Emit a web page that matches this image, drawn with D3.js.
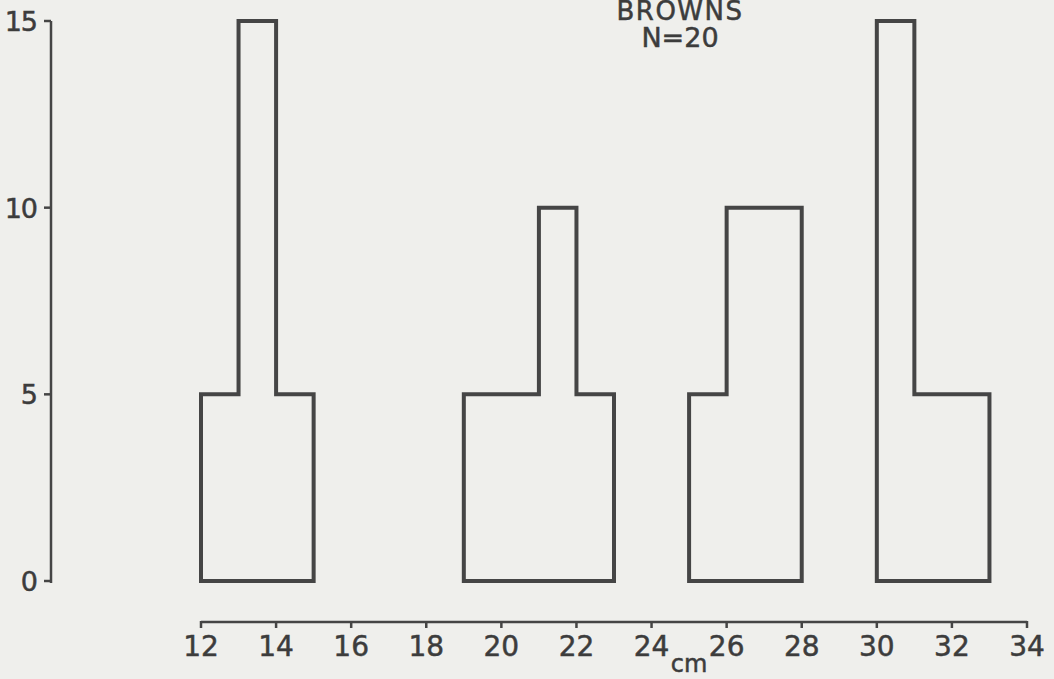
<!DOCTYPE html>
<html>
<head>
<meta charset="utf-8">
<script src="https://cdn.jsdelivr.net/npm/d3@7"></script>
<style>
  body { margin: 0; background: #efefec; }
  svg { display: block; }
  text { font-family: "DejaVu Sans", sans-serif; fill: #3c3c3c; stroke: #3c3c3c; stroke-width: 0.5px; }
</style>
</head>
<body>
<svg></svg>
<script>
// histogram bins (cm) and counts
const binLo = [12, 13, 14, 19, 21, 22, 25, 26, 30, 31];
const binHi = [13, 14, 15, 21, 22, 23, 26, 28, 31, 33];
const counts = [5, 15, 5, 5, 10, 5, 5, 10, 15, 5];
const xTicks = [12, 14, 16, 18, 20, 22, 24, 26, 28, 30, 32, 34];
const yTicks = [0, 5, 10, 15];
const titleLines = ["BROWNS", "N=20"];

(function drawHist() {
  const W = 1054, H = 679;
  const svg = d3.select("svg").attr("width", W).attr("height", H);

  const x = d3.scaleLinear().domain([12, 34]).range([201, 1027]);
  const y = d3.scaleLinear().domain([0, 15]).range([581, 21]);
  const ink = "#454545";

  // group contiguous bins into one outline
  let groups = [], cur = null;
  binLo.forEach((lo, i) => {
    if (cur && cur[cur.length - 1].hi === lo) cur.push({lo, hi: binHi[i], n: counts[i]});
    else { cur = [{lo, hi: binHi[i], n: counts[i]}]; groups.push(cur); }
  });

  groups.forEach(g => {
    const pts = [[x(g[0].lo), y(0)]];
    g.forEach(b => { pts.push([x(b.lo), y(b.n)]); pts.push([x(b.hi), y(b.n)]); });
    pts.push([x(g[g.length - 1].hi), y(0)]);
    svg.append("path")
      .attr("d", d3.line()(pts) + "Z")
      .attr("fill", "none")
      .attr("stroke", ink)
      .attr("stroke-width", 4)
      .attr("stroke-linejoin", "miter");
  });

  // y axis
  svg.append("line").attr("x1", 51).attr("x2", 51).attr("y1", y(15)).attr("y2", y(0) + 2)
    .attr("stroke", ink).attr("stroke-width", 2.5);
  svg.selectAll(".yt").data(yTicks).join("line")
    .attr("x1", 44).attr("x2", 51).attr("y1", d => y(d)).attr("y2", d => y(d))
    .attr("stroke", ink).attr("stroke-width", 2.5);
  svg.selectAll(".yl").data(yTicks).join("text")
    .attr("x", 37).attr("y", d => y(d) + 10)
    .attr("text-anchor", "end").style("font-size", "27px")
    .style("letter-spacing", "-1px")
    .text(d => d);

  // x axis
  svg.append("line").attr("x1", x(12)).attr("x2", x(34)).attr("y1", 622).attr("y2", 622)
    .attr("stroke", ink).attr("stroke-width", 2.5);
  svg.selectAll(".xt").data(xTicks).join("line")
    .attr("x1", d => x(d)).attr("x2", d => x(d)).attr("y1", 621).attr("y2", 628)
    .attr("stroke", ink).attr("stroke-width", 2.5);
  svg.selectAll(".xl").data(xTicks).join("text")
    .attr("x", d => x(d)).attr("y", 656)
    .attr("text-anchor", "middle").style("font-size", "28px")
    .text(d => d);
  svg.append("text").attr("x", x(25)).attr("y", 672)
    .attr("text-anchor", "middle").style("font-size", "24px").text("cm");

  // title
  svg.selectAll(".tt").data(titleLines).join("text")
    .attr("x", 680).attr("y", (d, i) => i === 0 ? 20 : 47)
    .attr("text-anchor", "middle").style("font-size", (d, i) => i === 0 ? "26px" : "27px")
    .style("letter-spacing", (d, i) => i === 0 ? "1.5px" : "0px")
    .text(d => d);
})();
</script>
</body>
</html>
